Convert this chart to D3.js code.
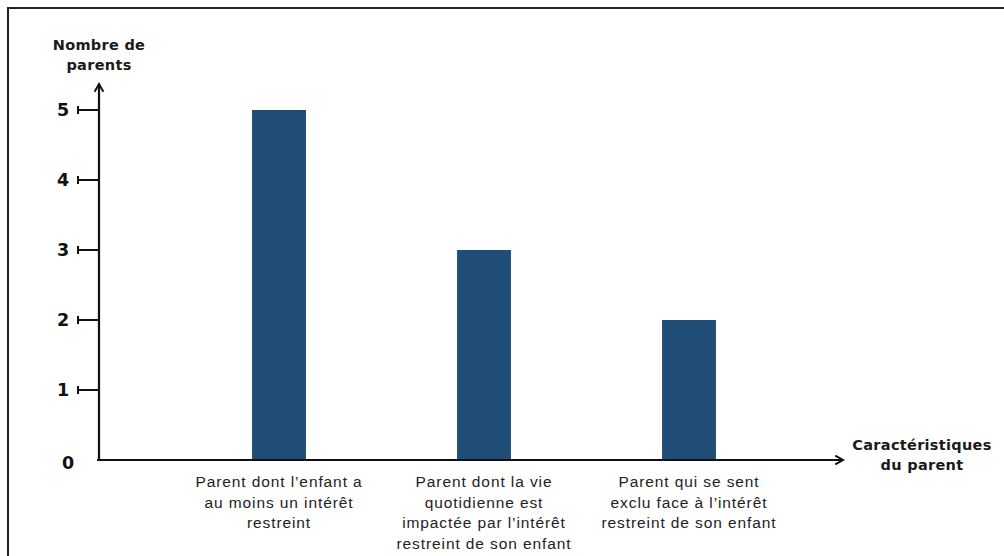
<!DOCTYPE html>
<html>
<head>
<meta charset="utf-8">
<script src="https://cdn.jsdelivr.net/npm/d3@7"></script>
<style>
  body { margin: 0; background: #fff; }
  svg { display: block; }
</style>
</head>
<body>
<div id="chart"></div>
<script>
// values
const categories = [
  ["Parent dont l\u2019enfant a", "au moins un intérêt", "restreint"],
  ["Parent dont la vie", "quotidienne est", "impactée par l\u2019intérêt", "restreint de son enfant"],
  ["Parent qui se sent", "exclu face à l\u2019intérêt", "restreint de son enfant"]
]
const values = [5, 3, 2]
const yTicks = [0, 1, 2, 3, 4, 5]
const yTitle = ["Nombre de", "parents"]
const xTitle = ["Caractéristiques", "du parent"]

const width = 1004, height = 556
const ink = "#111"
const barColor = "#1f4d75"

const svg = d3.select("#chart")
  .append("svg")
  .attr("width", width)
  .attr("height", height)

// frame (only top and left edges show in the shot)
svg.append("rect")
  .attr("x", 8).attr("y", 8)
  .attr("width", width + 20).attr("height", height + 20)
  .attr("fill", "none")
  .attr("stroke", "#222")
  .attr("stroke-width", 2)

const x0 = 99, y0 = 460

const x = d3.scaleBand()
  .domain(d3.range(values.length))
  .range([176.5, 791.5])
  .paddingInner(0.737)
  .paddingOuter(0.737 / 2)

const y = d3.scaleLinear()
  .domain([0, 5])
  .range([y0, 110])

const g = svg.append("g")

// bars
g.selectAll("rect.bar")
  .data(values)
  .join("rect")
  .attr("class", "bar")
  .attr("x", (d, i) => x(i))
  .attr("y", d => y(d))
  .attr("width", x.bandwidth())
  .attr("height", d => y(0) - y(d))
  .attr("fill", barColor)

// axes with arrows
const defs = svg.append("defs")
defs.append("marker")
  .attr("id", "arrow")
  .attr("viewBox", "0 0 10 10")
  .attr("refX", 8).attr("refY", 5)
  .attr("markerWidth", 5).attr("markerHeight", 5)
  .attr("orient", "auto")
  .append("path")
  .attr("d", "M1,1 L8,5 L1,9")
  .attr("fill", "none")
  .attr("stroke", ink)
  .attr("stroke-width", 1.8)

g.append("line")
  .attr("x1", x0).attr("y1", y0 + 1)
  .attr("x2", x0).attr("y2", 84)
  .attr("stroke", ink).attr("stroke-width", 2.2)
  .attr("marker-end", "url(#arrow)")

g.append("line")
  .attr("x1", x0 - 2).attr("y1", y0)
  .attr("x2", 843).attr("y2", y0)
  .attr("stroke", ink).attr("stroke-width", 2.2)
  .attr("marker-end", "url(#arrow)")

// y ticks with small caps
const ticks = g.selectAll("g.tick")
  .data(yTicks)
  .join("g")
  .attr("class", "tick")
  .attr("transform", d => `translate(0,${y(d)})`)

ticks.filter(d => d > 0).append("line")
  .attr("x1", 78).attr("x2", x0)
  .attr("stroke", ink).attr("stroke-width", 2)
ticks.filter(d => d > 0).append("line")
  .attr("x1", 78).attr("x2", 78)
  .attr("y1", -4).attr("y2", 4)
  .attr("stroke", ink).attr("stroke-width", 2)

ticks.append("text")
  .attr("x", d => d === 0 ? 68 : 63)
  .attr("y", d => d === 0 ? 3 : 0)
  .attr("dy", "0.36em")
  .attr("text-anchor", "middle")
  .style("font-family", "'DejaVu Sans', sans-serif")
  .style("font-weight", "bold")
  .style("font-size", "17.5px")
  .attr("fill", ink)
  .text(d => d)

// axis titles
const titleStyle = sel => sel
  .attr("text-anchor", "middle")
  .style("font-family", "'DejaVu Sans', sans-serif")
  .style("font-weight", "bold")
  .style("font-size", "14.5px")
  .style("letter-spacing", "0.3px")
  .attr("fill", "#1a1a1a")

titleStyle(g.append("text"))
  .selectAll("tspan")
  .data(yTitle)
  .join("tspan")
  .attr("x", 99)
  .attr("y", (d, i) => 50 + i * 20)
  .text(d => d)

titleStyle(g.append("text"))
  .selectAll("tspan")
  .data(xTitle)
  .join("tspan")
  .attr("x", 922)
  .attr("y", (d, i) => 450 + i * 20)
  .text(d => d)

// category labels
g.selectAll("text.cat")
  .data(categories)
  .join("text")
  .attr("class", "cat")
  .attr("text-anchor", "middle")
  .style("font-family", "'Liberation Sans', Arial, sans-serif")
  .style("font-size", "15.5px")
  .style("letter-spacing", "0.9px")
  .attr("fill", "#222")
  .each(function(lines, i) {
    d3.select(this).selectAll("tspan")
      .data(lines)
      .join("tspan")
      .attr("x", x(i) + x.bandwidth() / 2)
      .attr("y", (d, k) => 487 + k * 20.7)
      .text(d => d)
  })
</script>
</body>
</html>
